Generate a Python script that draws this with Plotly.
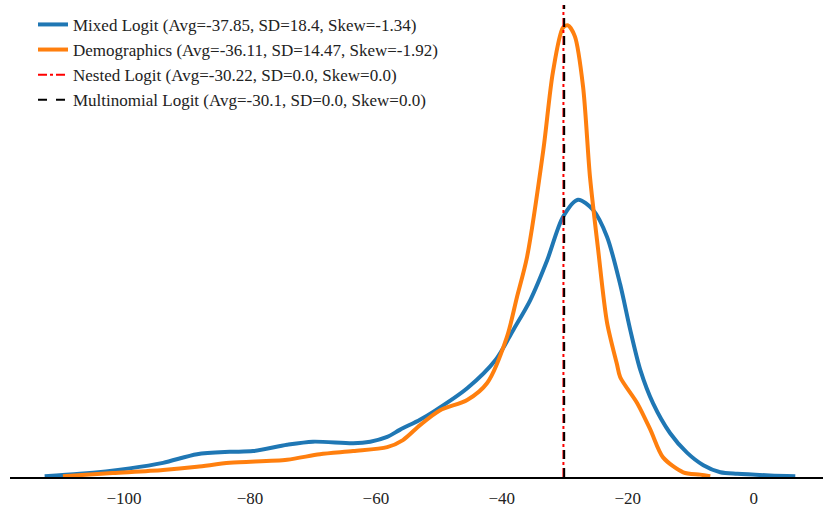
import plotly.graph_objects as go

# Mixed Logit KDE (x value, density)
mixed_x = [-112.6, -107.0, -99.1, -93.8, -88.4, -83.2, -79.5, -74.1, -70.0, -63.6,
           -60.9, -58.2, -56.2, -53.0, -50.9, -45.5, -41.0, -38.2, -35.5, -32.8,
           -30.3, -27.9, -25.5, -23.3, -21.2, -19.6, -18.0, -16.0, -13.3,
           -10.6, -8.0, -5.3, -2.6, 2.6, 6.6]
mixed_y = [0.0001, 0.0004, 0.0011, 0.0018, 0.0029, 0.0032, 0.0033, 0.0041, 0.0045, 0.0043,
           0.0045, 0.0051, 0.0060, 0.0073, 0.0083, 0.0113, 0.0149, 0.0187, 0.0225, 0.0276,
           0.0331, 0.0353, 0.0340, 0.0306, 0.0245, 0.0187, 0.0136, 0.0094, 0.0056,
           0.0031, 0.0015, 0.0006, 0.0004, 0.0002, 0.0001]

# Demographics KDE
demo_x = [-109.7, -101.8, -93.8, -88.4, -83.2, -74.1, -68.9, -63.6, -58.2, -55.7,
          -53.0, -49.8, -45.5, -42.3, -39.2, -37.6, -36.0, -33.4, -31.9, -30.3,
          -29.5, -28.4, -27.1, -26.0, -24.7, -23.3, -21.7, -21.2, -18.5, -16.4, -14.4,
          -11.2, -8.5, -6.9]
demo_y = [0.0001, 0.0005, 0.0009, 0.0013, 0.0018, 0.0022, 0.0029, 0.0033, 0.0038, 0.0047,
          0.0066, 0.0085, 0.0098, 0.0120, 0.0178, 0.0229, 0.0280, 0.0417, 0.0515, 0.0572,
          0.0575, 0.0561, 0.0497, 0.0382, 0.0289, 0.0197, 0.0143, 0.0127, 0.0094, 0.0060, 0.0025,
          0.0006, 0.0003, 0.0001]

nested_avg = -30.22
mnl_avg = -30.1

labels = [
    "Mixed Logit (Avg=-37.85, SD=18.4, Skew=-1.34)",
    "Demographics (Avg=-36.11, SD=14.47, Skew=-1.92)",
    "Nested Logit (Avg=-30.22, SD=0.0, Skew=0.0)",
    "Multinomial Logit (Avg=-30.1, SD=0.0, Skew=0.0)",
]

tick_vals = [-100, -80, -60, -40, -20, 0]

x_range = [-118.1, 11.0]
y_range = [0, 0.0601]

fig = go.Figure()
fig.add_trace(go.Scatter(x=mixed_x, y=mixed_y, mode="lines", name=labels[0],
                         line=dict(color="#1f77b4", width=4, shape="spline", smoothing=0.8)))
fig.add_trace(go.Scatter(x=demo_x, y=demo_y, mode="lines", name=labels[1],
                         line=dict(color="#ff7f0e", width=4, shape="spline", smoothing=0.8)))
fig.add_trace(go.Scatter(x=[nested_avg, nested_avg], y=y_range, mode="lines", name=labels[2],
                         line=dict(color="#ff0000", width=2, dash="dashdot")))
fig.add_trace(go.Scatter(x=[mnl_avg, mnl_avg], y=y_range, mode="lines", name=labels[3],
                         line=dict(color="#000000", width=2, dash="dash")))

fig.update_layout(
    width=824, height=516,
    margin=dict(l=10, r=1, t=5, b=39),
    paper_bgcolor="white", plot_bgcolor="white",
    font=dict(family="Liberation Serif", size=17, color="#222"),
    showlegend=True,
    legend=dict(x=0.0283, y=0.996, xanchor="left", yanchor="top", bgcolor="rgba(0,0,0,0)",
                borderwidth=0, font=dict(size=17), tracegroupgap=0),
    xaxis=dict(range=x_range, tickvals=tick_vals, showgrid=False, zeroline=False,
               showline=True, linecolor="black", linewidth=1.5, ticks="",
               ticklabelstandoff=5, tickfont=dict(size=17)),
    yaxis=dict(range=y_range, visible=False, showgrid=False, zeroline=False),
)

fig.write_html("out.html", config={"displayModeBar": False},
               post_script="document.body.style.margin='0';")
